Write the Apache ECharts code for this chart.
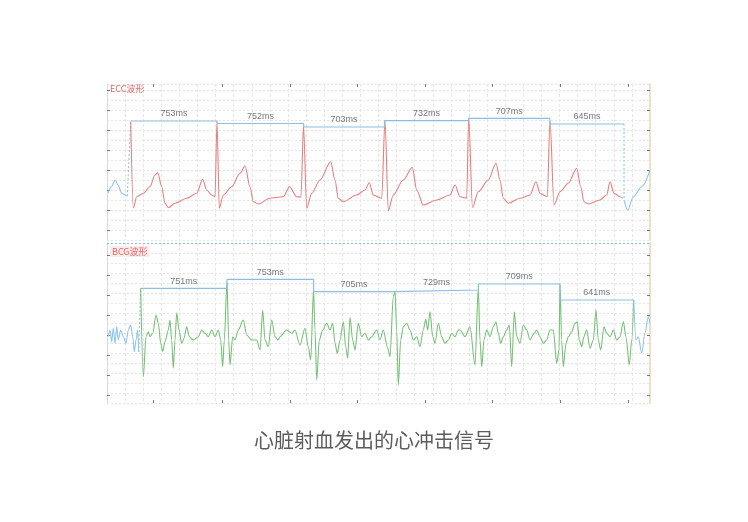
<!DOCTYPE html>
<html>
<head>
<meta charset="utf-8">
<script src="https://cdn.jsdelivr.net/npm/echarts@6/dist/echarts.min.js"></script>
<style>html,body{margin:0;padding:0;background:#fff;}#c{width:748px;height:522px;}</style>
</head>
<body>
<div id="c"></div>
<script>
// ---- data (x = sample index, 1 sample = SAMPLE_MS ms; y = raw amplitude counts) ----
const SAMPLE_MS = 8.7;
const xTicks = [46, 115, 183, 250, 318, 385, 453, 521];
const ecgTicks = [10, 30, 50, 70, 90, 110, 130, 150];
const bcgTicks = [8, 28, 48, 68, 88, 108, 128, 148];

const ecgIntervals = [753, 752, 703, 732, 707, 645];
const ecgBracketLevels = [119, 116.5, 113, 119.3, 121.7, 116];
const ecgFirstPeak = 23.7;
const ecgTailLevel = 40;

const bcgIntervals = [751, 753, 705, 729, 709, 641];
const bcgBracketLevels = [114.7, 123.7, 111.3, 113, 119, 103];
const bcgFirstPeak = 33.7;
const bcgSeparatorLevel = 159.5;

const ecgLead = [[1,47],[5,54],[8,60],[11,55],[14.7,47],[18,45],[20.3,44]];
const ecgMain = [
 [23.7,118.3],[26.3,32],[29.7,43.3],[36.3,46.7],[43,53.3],[48,65],[50.7,67.3],[54.7,53.3],[58,36.7],[61.3,32.3],[68,36.7],[79.7,41.7],[89.7,46.7],[95.7,60.7],[99.7,50],[104.7,45],[108,43.3],
 [110,118.3],[112.3,31.7],[116.3,45],[124.7,53.3],[133,66.7],[138,74],[143,53.3],[146.3,38.3],[151.3,36],[163,41.7],[176.3,43.3],[182.6,53.3],[189.7,43.3],[194,43],
 [196.5,115],[199.7,31.7],[204.7,46.7],[213,60],[223.7,78.3],[228,60],[231.3,41.7],[236.3,38.3],[249.7,45],[258,50],[262.3,57.3],[266.3,45],[274.7,41.7],
 [278,120],[281.3,29.3],[286.3,45],[296.3,60],[305.3,72.7],[309.7,50],[316.3,35],[329.7,40],[343,45],[348,55],[353,43.3],[359.7,41.7],
 [361.7,122.5],[365.5,32.5],[371.3,48.3],[381.3,60],[389,76.7],[393,60],[396.3,41.7],[401.3,36.7],[413,41.7],[423,45],[429,58.3],[433,46.7],[440.3,43.3],
 [443,119.3],[447,35],[453,48.3],[461.3,56.7],[469.7,71.7],[473.7,53.3],[477,38.3],[481.3,36],[493,40],[499.7,45],[503,58.3],[507,46.7],[513,43.3],[515.7,41.7]
];
const ecgTail = [[517,40],[520.7,30],[526.3,43.3],[534.7,53.3],[543,70]];

const bcgLead = [[1.3,66.3],[3,73],[4.7,61.3],[6.3,74.7],[8,59.7],[9.7,76.3],[11.3,63],[13.7,73],[16.3,66.3],[19,59.7],[21.3,73],[23.7,78],[25.7,66.3],[27.3,51.3],[29,63],[30.7,73],[31.7,51]];
const bcgMain = [
 [33.7,114.7],[36.3,26.3],[39,66.3],[41.3,71.3],[43,66.3],[45.7,69.7],[49,88],[51.3,79.7],[53.7,59.7],[55.7,51.3],[58,61.3],[61.3,73],[63,83],[64.7,63],[66.3,34.7],[68,63],[69.7,90.3],[72,73],[74.7,59.7],[77,64.7],[79.7,76.3],[82.3,66.3],[86.3,63],[91.3,66.3],[94.7,73],[98,69.7],[101.3,66.3],[104.7,73],[108,66.3],[111.3,73],[113.7,63],[115.7,36.3],[117.3,63],
 [120,121],[121.7,63],[123,38],[125.7,66.3],[128,63],[131.3,73],[136.3,83],[139.7,68],[144.7,63],[149.7,63],[153,53],[155.7,93],[158,63],[161.3,56.3],[164.7,83],[168,66.3],[171.3,63],[173,66.3],[179.7,73],[184.7,69.7],[188,73],[193,58],[198,74.7],[201.3,56.3],[203.7,43],
 [206.5,113],[208,73],[209.7,23],[212.3,63],[215.7,73],[219.7,79.7],[223,73],[225.7,79.7],[228,59.7],[230.3,49.7],[233,63],[236.3,81.3],[238.7,56.3],[240.7,44.7],[243,85.7],[245.7,63],[248,53],[251.3,79.7],[254.7,66.3],[258,69.7],[261.3,63],[264.7,66.3],[269.7,73],[273,63],[276.3,73],[280.3,56.3],[283,46.3],[286.3,106.3],
 [288,111.3],[289.7,73],[291.3,18],[293.7,63],[296.3,76.3],[299.7,79.7],[303,73],[306.3,63],[309.7,66.3],[313,56.3],[316.3,73],[318.7,83.7],[320.7,73],[323,91.3],[325.7,66.3],[328,59.7],[331.3,79.7],[334.7,66.3],[338,59.7],[341.3,63],[344.7,69.7],[348,66.3],[351.3,73],[353,73],[358,66.3],[363,76.3],[368,38],
 [371.3,115],[373,63],[374.7,36.3],[377,63],[379.7,73],[383,66.3],[386.3,76.3],[389,81.3],[391.3,69.7],[393.7,59.7],[396.3,66.3],[399.7,73],[402.3,78],[404.7,36.3],[407.3,91.3],[409.7,66.3],[413,59.7],[416.3,78],[419.7,73],[423,63],[427,69.7],[429.7,73],[433,66.3],[436.3,59.7],[439.7,63],[443,73],[446.3,73],[449.7,39.7],[452,53],
 [453,119],[454.7,63],[456.3,36.3],[459,59.7],[461.3,66.3],[464.7,71.3],[468,79.7],[470.3,81.3],[472.3,63],[474.7,56.3],[477,66.3],[479.7,73],[483,54.7],[486.3,63],[489,93],[491.3,63],[493.7,53],[497,76.3],[499.7,69.7],[503,66.3],[506.3,73],[509.7,63],[513,66.3],[516.3,81.3],[519,66.3],[522.3,38],[524.7,63],
 [526.7,103]
];
const bcgTail = [[526.7,103],[529,63],[531.3,66.3],[534.7,49.7],[538,69.7],[541.3,86.3],[543,79.7]];

// ---- derived from the interval values ----
function peaks(first, intervals) {
  const out = [first];
  intervals.forEach(iv => out.push(out[out.length - 1] + iv / SAMPLE_MS));
  return out;
}
const ecgPeaks = peaks(ecgFirstPeak, ecgIntervals);
const bcgPeaks = peaks(bcgFirstPeak, bcgIntervals);
function bracket(pk, lv) { return pk.map((p, i) => [p, lv[Math.min(i, lv.length - 1)]]); }
function labels(pk, lv, iv) { return iv.map((v, i) => [(pk[i] + pk[i + 1]) / 2, lv[i], v]); }

const RED = '#e5817e', GREEN = '#77c177', BLUE = '#8fc5ea', BRK = '#8dbde3';
const GRIDC = '#e6e6e6';
const X_MAX = 543, X_STEP = 18.1;

const chart = echarts.init(document.getElementById('c'));

// axis that only draws the grid lines
function xGridAx(gi, pos) {
  return { type: 'value', gridIndex: gi, position: pos, min: 0, max: X_MAX, interval: X_STEP,
    axisLabel: { show: false }, axisLine: { show: false, onZero: false }, axisTick: { show: false },
    splitLine: { show: true, lineStyle: { color: GRIDC, type: [3, 2], width: 1 } } };
}
// axis that only draws the tick marks
function xTickAx(gi, pos) {
  return { type: 'value', gridIndex: gi, position: pos, min: 0, max: X_MAX,
    axisLabel: { show: false }, axisLine: { show: false, onZero: false }, splitLine: { show: false },
    axisTick: { show: true, inside: true, length: 3, customValues: xTicks, lineStyle: { color: '#777' } } };
}
function yGridAx(gi, max, splitMax) {
  return { type: 'value', gridIndex: gi, position: 'left', min: 0, max: max, interval: 10,
    axisLabel: { show: false }, axisLine: { show: false, onZero: false }, axisTick: { show: false },
    splitLine: { show: true, showMaxLine: splitMax, lineStyle: { color: GRIDC, type: [2, 2], width: 1 } } };
}
function yTickAx(gi, pos, max, ticks, lineColor, lineWidth) {
  return { type: 'value', gridIndex: gi, position: pos, min: 0, max: max,
    axisLabel: { show: false }, splitLine: { show: false },
    axisLine: { show: true, onZero: false, lineStyle: { color: lineColor, width: lineWidth } },
    axisTick: { show: true, inside: true, length: 3, customValues: ticks, lineStyle: { color: '#777' } } };
}
function wave(name, data, color, xi, yi, dashed) {
  return {
    name, type: 'line', data, xAxisIndex: xi, yAxisIndex: yi, symbol: 'none',
    smooth: 0.3, smoothMonotone: 'x',
    lineStyle: { color, width: 1.1, type: dashed ? [2, 2] : 'solid' }, z: 3
  };
}
const labelFont = { color: '#555', fontSize: 9, fontFamily: 'Liberation Sans, Arial, sans-serif' };

chart.setOption({
  animation: false,
  backgroundColor: '#fff',
  title: [
    { text: 'ECC波形', left: 110, top: 84, padding: 0,
      textStyle: { fontSize: 9, color: '#e26a6a', fontWeight: 'normal', fontFamily: 'Noto Sans CJK SC, sans-serif' } },
    { text: 'BCG波形', left: 110, top: 246, padding: [1, 2], backgroundColor: '#fdeaea',
      textStyle: { fontSize: 9, color: '#e26a6a', fontWeight: 'normal', fontFamily: 'Noto Sans CJK SC, sans-serif' } },
    { text: '心脏射血发出的心冲击信号', left: 'center', top: 430, padding: 0,
      textStyle: { fontSize: 20, color: '#5c5c5c', fontWeight: 'normal', fontFamily: 'Noto Sans CJK SC, sans-serif' } }
  ],
  grid: [
    { left: 107, right: 98, top: 84, height: 156 },
    { left: 107, right: 98, top: 243, height: 160 }
  ],
  xAxis: [
    xTickAx(0, 'top'),      // 0: ECG series + top ticks
    xGridAx(0, 'bottom'),   // 1: ECG vertical grid
    xTickAx(1, 'bottom'),   // 2: BCG series + bottom ticks
    xGridAx(1, 'top')       // 3: BCG vertical grid
  ],
  yAxis: [
    yTickAx(0, 'left', 156, ecgTicks, '#dcdcdc', 1),   // 0
    yTickAx(0, 'right', 156, ecgTicks, '#f0dfc4', 2),  // 1
    yGridAx(0, 156, true),                             // 2
    yTickAx(1, 'left', 160, bcgTicks, '#dcdcdc', 1),   // 3
    yTickAx(1, 'right', 160, bcgTicks, '#f0dfc4', 2),  // 4
    yGridAx(1, 160, false)                             // 5
  ],
  series: [
    // empty series so the grid-only axes are bound
    { type: 'line', data: [], xAxisIndex: 1, yAxisIndex: 2 },
    { type: 'line', data: [], xAxisIndex: 3, yAxisIndex: 5 },

    wave('ECG lead', ecgLead, BLUE, 0, 0, false),
    wave('ECG start', [ecgLead[ecgLead.length - 1], [ecgPeaks[0], ecgBracketLevels[0]]], BLUE, 0, 0, true),
    wave('ECG', ecgMain, RED, 0, 0, false),
    wave('ECG end', [[ecgPeaks[6], ecgBracketLevels[5]], [ecgPeaks[6], ecgTailLevel]], BLUE, 0, 0, true),
    wave('ECG tail', ecgTail, BLUE, 0, 0, false),
    { name: 'ECG RR', type: 'line', step: 'end', data: bracket(ecgPeaks, ecgBracketLevels), xAxisIndex: 0, yAxisIndex: 0,
      symbol: 'none', lineStyle: { color: BRK, width: 1.2 }, z: 4 },
    { name: 'ECG RR label', type: 'scatter', data: labels(ecgPeaks, ecgBracketLevels, ecgIntervals), xAxisIndex: 0, yAxisIndex: 0,
      symbolSize: 1, itemStyle: { color: 'rgba(0,0,0,0)' },
      label: { show: true, position: 'top', distance: 2, formatter: p => p.data[2] + 'ms', ...labelFont } },

    wave('BCG lead', bcgLead, BLUE, 2, 3, false),
    wave('BCG start', [bcgLead[bcgLead.length - 1], [bcgPeaks[0], bcgBracketLevels[0]]], BLUE, 2, 3, true),
    wave('BCG', bcgMain, GREEN, 2, 3, false),
    wave('BCG tail', bcgTail, BLUE, 2, 3, false),
    { name: 'BCG JJ', type: 'line', step: 'end', data: bracket(bcgPeaks, bcgBracketLevels), xAxisIndex: 2, yAxisIndex: 3,
      symbol: 'none', lineStyle: { color: BRK, width: 1.2 }, z: 4,
      markLine: { silent: true, symbol: 'none', label: { show: false },
        lineStyle: { color: '#7dbbe4', type: [2, 2], width: 1 }, data: [{ yAxis: bcgSeparatorLevel }] } },
    { name: 'BCG JJ label', type: 'scatter', data: labels(bcgPeaks, bcgBracketLevels, bcgIntervals), xAxisIndex: 2, yAxisIndex: 3,
      symbolSize: 1, itemStyle: { color: 'rgba(0,0,0,0)' },
      label: { show: true, position: 'top', distance: 2, formatter: p => p.data[2] + 'ms', ...labelFont } }
  ]
});
</script>
</body>
</html>
